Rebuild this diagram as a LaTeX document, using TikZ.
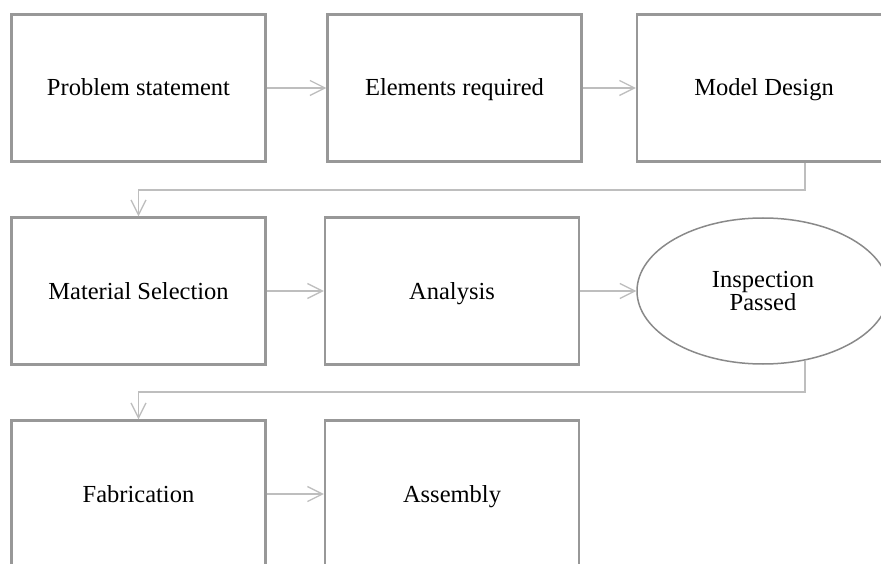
\documentclass[tikz,border=0pt]{standalone}
\usepackage{fontspec}
\setmainfont{Liberation Serif}
\usepackage{tikz}
\usetikzlibrary{
	arrows.meta,
	calc,
	shapes.geometric
}
\definecolor{boxGray}{RGB}{152,152,152}
\definecolor{linkGray}{RGB}{190,190,190}
\tikzset{
	stepbox/.style={draw=boxGray,line width=2.2pt,rectangle,minimum width=254pt,minimum height=147pt,
		font=\fontsize{24.5}{22}\selectfont,align=center,inner sep=0pt,text height=16pt,text depth=0pt},
	checkbox/.style={stepbox,ellipse,line width=1.5pt,draw=boxGray!90!black,minimum width=252pt,minimum height=146pt,
		text height={},text depth={}},
	link/.style={draw=linkGray,line width=1.3pt,>={Straight Barb[length=15pt,width=15pt]}}
}
\newcommand{\tikzStep}[4][]{\node (#3) at #2 [stepbox,#1]{#4};}

\begin{document}
\begin{tikzpicture}[x=1pt,y=-1pt]
					\useasboundingbox (0,0) rectangle (881,564);
					\clip (0,0) rectangle (881,564);
					
					\tikzStep{(138.5,88)}{problem}{Problem statement}
					\tikzStep{(454.5,88)}{elements}{Elements required}
					\tikzStep{(764,88)}{model}{Model Design}
					
					\tikzStep{(138.5,291)}{material}{Material Selection}
					\tikzStep{(452,291)}{analysis}{Analysis}
					\tikzStep[checkbox]{(763,291)}{inspection}{Inspection\\Passed}
					
					\tikzStep{(138.5,494)}{fabrication}{Fabrication}
					\tikzStep{(452,494)}{assembly}{Assembly}
					
					\coordinate (drop) at (805,0);
					\coordinate (lane1) at (0,190);
					\coordinate (lane2) at (0,392);
					
					\draw[link,->] (problem) -- (elements);
					\draw[link,->] (elements) -- (model);
					\draw[link,->] (model.south -| drop) -- (lane1 -| drop) -| (material.north);
					
					\draw[link,->] (material) -- (analysis);
					\draw[link,->] (analysis) -- (inspection);
					\draw[link,->] (inspection.-59 -| drop) -- (lane2 -| drop) -| (fabrication.north);
					
					\draw[link,->] (fabrication) -- (assembly);
				\end{tikzpicture}
\end{document}
